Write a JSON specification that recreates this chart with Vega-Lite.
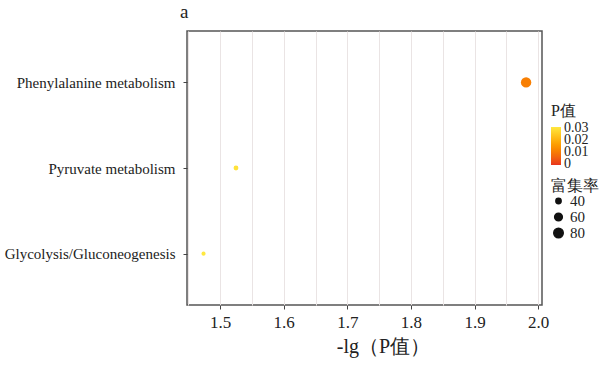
{
  "$schema": "https://vega.github.io/schema/vega-lite/v6.json",
  "width": 355,
  "height": 274,
  "autosize": {"type": "none"},
  "padding": {"left": 187, "top": 31, "right": 58, "bottom": 66},
  "background": "white",
  "title": {"text": "a", "anchor": "start", "frame": "group", "font": "Liberation Serif", "fontSize": 19, "fontWeight": "normal", "color": "#222", "offset": 9, "dx": -7},
  "data": {
    "values": [
      {"pathway": "Phenylalanine metabolism", "neglogp": 1.981, "p": 0.0105, "rich": 92},
      {"pathway": "Pyruvate metabolism", "neglogp": 1.525, "p": 0.0299, "rich": 37},
      {"pathway": "Glycolysis/Gluconeogenesis", "neglogp": 1.474, "p": 0.0336, "rich": 33}
    ]
  },
  "mark": {"type": "point", "filled": true, "opacity": 1, "shape": "circle"},
  "encoding": {
    "x": {
      "field": "neglogp", "type": "quantitative",
      "scale": {"domain": [1.448, 2.006], "nice": false, "zero": false},
      "axis": {
        "title": "-lg（P值）",
        "values": [1.45, 1.5, 1.55, 1.6, 1.65, 1.7, 1.75, 1.8, 1.85, 1.9, 1.95, 2.0],
        "labelExpr": "abs(datum.value*10 - round(datum.value*10)) < 0.01 ? format(datum.value, '.1f') : ''",
        "tickOpacity": {"condition": {"test": "abs(datum.value*10 - round(datum.value*10)) < 0.01", "value": 1}, "value": 0},
        "labelFontSize": 17,
        "labelPadding": 5,
        "titleFontSize": 20,
        "titlePadding": 6,
        "titleX": 196
      }
    },
    "y": {
      "field": "pathway", "type": "nominal",
      "sort": ["Phenylalanine metabolism", "Pyruvate metabolism", "Glycolysis/Gluconeogenesis"],
      "scale": {"type": "point", "padding": 0.6},
      "axis": {"title": null, "labelFontSize": 15, "labelPadding": 8}
    },
    "color": {
      "field": "p", "type": "quantitative",
      "scale": {"domain": [-0.0012, 0.0312], "range": ["#E8341C", "#FFE840"], "clamp": true, "nice": false, "zero": false},
      "legend": {
        "title": "P值",
        "orient": "none", "legendX": 364, "legendY": 72,
        "values": [0, 0.01, 0.02, 0.03],
        "labelExpr": "datum.value == 0 ? '0' : format(datum.value, '.2f')",
        "gradientLength": 38, "gradientThickness": 10,
        "labelOverlap": false,
        "labelFont": "Liberation Serif", "titleFont": "Liberation Serif",
        "labelFontSize": 14, "titleFontSize": 16, "titlePadding": 8,
        "gradientStrokeWidth": 0, "direction": "vertical", "labelOffset": 3
      }
    },
    "size": {
      "field": "rich", "type": "quantitative",
      "scale": {"domain": [40, 80], "range": [28, 90], "zero": false},
      "legend": {
        "title": "富集率",
        "orient": "none", "legendX": 364, "legendY": 147,
        "values": [40, 60, 80],
        "symbolFillColor": "#111", "symbolStrokeColor": "#111", "symbolType": "circle",
        "labelFont": "Liberation Serif", "titleFont": "Liberation Serif",
        "labelFontSize": 15, "titleFontSize": 16, "titlePadding": 0, "rowPadding": 1, "clipHeight": 14, "labelOffset": 4
      }
    }
  },
  "config": {
    "font": "Liberation Serif",
    "view": {"stroke": "#555", "strokeWidth": 1.5},
    "axis": {
      "domain": false,
      "gridColor": "#EAE4E4", "gridWidth": 1,
      "tickColor": "#444", "tickSize": 4,
      "labelColor": "#222", "titleColor": "#222",
      "labelFont": "Liberation Serif", "titleFont": "Liberation Serif", "titleFontWeight": "normal"
    },
    "legend": {
      "labelFont": "Liberation Serif", "titleFont": "Liberation Serif", "titleFontWeight": "normal",
      "labelColor": "#222", "titleColor": "#222", "titlePadding": 2, "padding": 0
    }
  }
}
